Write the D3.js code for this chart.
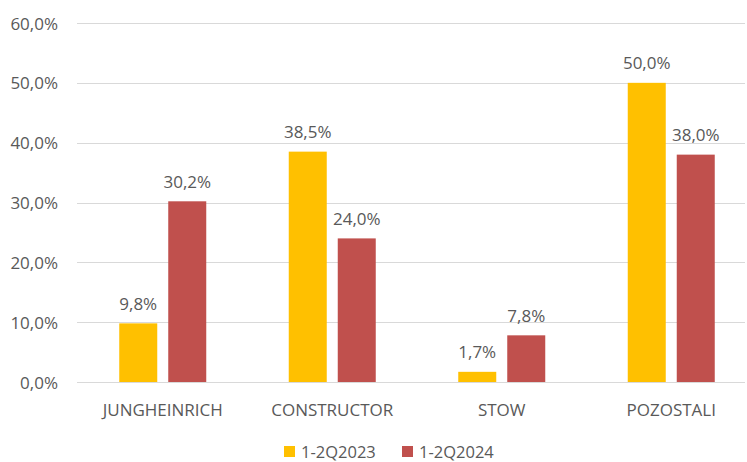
<!DOCTYPE html>
<html>
<head>
<meta charset="utf-8">
<script src="https://cdn.jsdelivr.net/npm/d3@7"></script>
<style>
  body { margin: 0; background: #fff; }
  text { font-family: "Open Sans", sans-serif; fill: #595959; }
</style>
</head>
<body>
<div id="chart"></div>
<script>
const categories = ["JUNGHEINRICH", "CONSTRUCTOR", "STOW", "POZOSTALI"];
const seriesNames = ["1-2Q2023", "1-2Q2024"];
const values2023 = [9.8, 38.5, 1.7, 50.0];
const values2024 = [30.2, 24.0, 7.8, 38.0];
const yTicks = [0, 10, 20, 30, 40, 50, 60];
const colors = ["#FFC000", "#C0504D"];

const width = 747, height = 462;

const svg = d3.select("#chart").append("svg")
    .attr("width", width)
    .attr("height", height);

const fmt = d => d.toFixed(1).replace(".", ",") + "%";

const y = d3.scaleLinear()
    .domain([0, 60])
    .range([382, 23]);

const x = d3.scaleBand()
    .domain(categories)
    .range([78, 756]);

const xInner = d3.scaleBand()
    .domain(seriesNames)
    .range([x.bandwidth() / 2 - 43.5, x.bandwidth() / 2 + 43.5])
    .paddingInner(0.2245);

// gridlines
svg.append("g")
    .selectAll("line")
    .data(yTicks)
    .enter()
    .append("line")
    .attr("x1", 77)
    .attr("x2", 745)
    .attr("y1", d => Math.round(y(d)) + 0.5)
    .attr("y2", d => Math.round(y(d)) + 0.5)
    .attr("stroke", "#d9d9d9")
    .attr("stroke-width", 1);

// y labels
svg.append("g")
    .selectAll("text")
    .data(yTicks)
    .enter()
    .append("text")
    .attr("x", 58)
    .attr("y", d => y(d) + 6.5)
    .attr("text-anchor", "end")
    .style("font-size", "17px")
    .text(fmt);

const rows = categories.map((c, i) => ({
    cat: c,
    vals: [values2023[i], values2024[i]]
}));

const groups = svg.append("g")
    .selectAll("g")
    .data(rows)
    .enter()
    .append("g")
    .attr("transform", d => "translate(" + x(d.cat) + ",0)");

groups.selectAll("rect")
    .data(d => d.vals.map((v, j) => ({ s: seriesNames[j], v: v, j: j })))
    .enter()
    .append("rect")
    .attr("x", d => xInner(d.s))
    .attr("width", xInner.bandwidth())
    .attr("y", d => y(d.v))
    .attr("height", d => y(0) - y(d.v))
    .attr("fill", d => colors[d.j]);

groups.selectAll("text.val")
    .data(d => d.vals.map((v, j) => ({ s: seriesNames[j], v: v, j: j })))
    .enter()
    .append("text")
    .attr("class", "val")
    .attr("x", d => xInner(d.s) + xInner.bandwidth() / 2)
    .attr("y", d => y(d.v) - 13.5)
    .attr("text-anchor", "middle")
    .style("font-size", "17px")
    .text(d => fmt(d.v));

// category labels
svg.append("g")
    .selectAll("text")
    .data(categories)
    .enter()
    .append("text")
    .attr("x", d => x(d) + x.bandwidth() / 2)
    .attr("y", 416)
    .attr("text-anchor", "middle")
    .style("font-size", "17px")
    .text(d => d);

// legend
const legendX = [284, 402];
const legend = svg.append("g")
    .selectAll("g")
    .data(seriesNames)
    .enter()
    .append("g")
    .attr("transform", (d, i) => "translate(" + legendX[i] + ",446)");

legend.append("rect")
    .attr("width", 11)
    .attr("height", 11)
    .attr("fill", (d, i) => colors[i]);

legend.append("text")
    .attr("x", 17)
    .attr("y", 11.5)
    .style("font-size", "16.5px")
    .text(d => d);
</script>
</body>
</html>
